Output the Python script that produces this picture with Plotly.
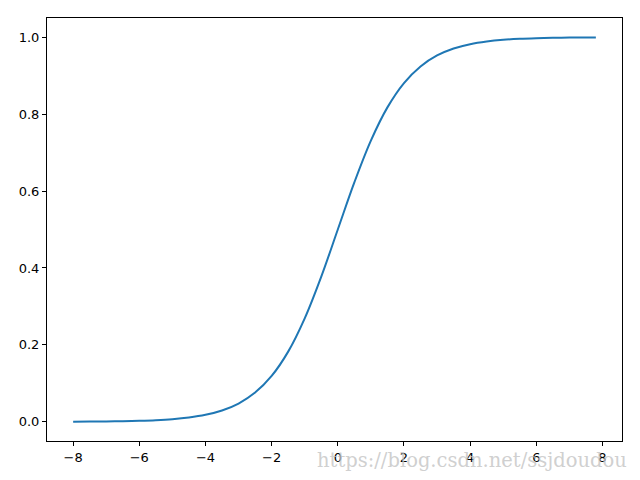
import plotly.graph_objects as go

x_vals = [-8, -7.5, -7, -6.5, -6, -5.5, -5, -4.5, -4, -3.5, -3, -2.5, -2, -1.5, -1, -0.5,
          0, 0.5, 1, 1.5, 2, 2.5, 3, 3.5, 4, 4.5, 5, 5.5, 6, 6.5, 7, 7.5, 7.8]
y_vals = [0.0003, 0.0006, 0.0009, 0.0015, 0.0025, 0.0041, 0.0067, 0.0110, 0.0180, 0.0293,
          0.0474, 0.0759, 0.1192, 0.1824, 0.2689, 0.3775, 0.5, 0.6225, 0.7311, 0.8176,
          0.8808, 0.9241, 0.9526, 0.9707, 0.9820, 0.9890, 0.9933, 0.9959, 0.9975, 0.9985,
          0.9991, 0.9994, 0.9996]
x_ticks = [-8, -6, -4, -2, 0, 2, 4, 6, 8]
y_ticks = [0.0, 0.2, 0.4, 0.6, 0.8, 1.0]
watermark = "https://blog.csdn.net/ssjdoudou"

fig = go.Figure(go.Scatter(x=x_vals, y=y_vals, mode="lines",
                           line=dict(color="#1f77b4", width=2, shape="spline", smoothing=1.0)))

axis_common = dict(showgrid=False, zeroline=False, showline=True, linecolor="black", linewidth=1,
                   mirror=True, ticks="outside", ticklen=4, tickwidth=1, tickcolor="black",
                   tickfont=dict(family="DejaVu Sans", size=13, color="black"))
fig.update_xaxes(range=[-8.79, 8.59], tickvals=x_ticks, ticktext=[str(t).replace("-", "\u2212") for t in x_ticks],
                 **axis_common)
fig.update_yaxes(range=[-0.05, 1.05], tickvals=y_ticks, ticktext=[f"{t:.1f}" for t in y_ticks],
                 **axis_common)

fig.add_annotation(text=watermark, xref="paper", yref="paper", x=1.012, y=-0.014,
                   xanchor="right", yanchor="top", showarrow=False,
                   font=dict(family="DejaVu Serif", size=19.5, color="rgba(195,195,195,0.8)"))

fig.update_layout(width=640, height=480, margin=dict(l=47, r=18, t=18, b=39),
                  plot_bgcolor="white", paper_bgcolor="white", showlegend=False)

fig.write_html("out.html", config={"displayModeBar": False},
               post_script="document.body.style.margin='0';document.body.style.padding='0';")
